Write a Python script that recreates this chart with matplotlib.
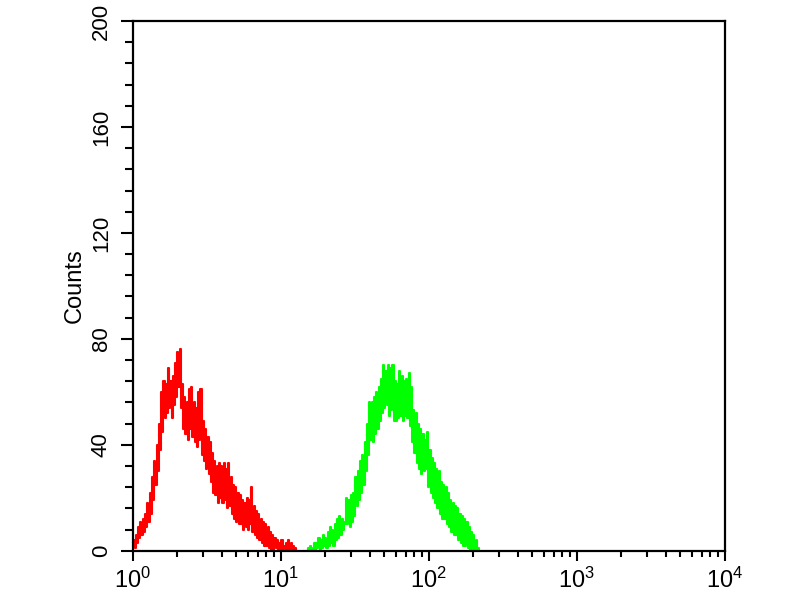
import matplotlib
matplotlib.use("Agg")
import matplotlib.pyplot as plt
import numpy as np
from matplotlib.ticker import MultipleLocator, LogLocator, FixedLocator, NullFormatter

plt.rcParams['font.family'] = ['Liberation Sans', 'DejaVu Sans']

# Histogram data: channel index (1/128 decade per channel) and counts
red_start = 0
red_counts = [
    0, 4, 1, 6, 3, 9, 5, 11, 6, 12,
    7, 14, 9, 18, 11, 22, 14, 28, 19, 34,
    25, 40, 30, 48, 38, 60, 45, 64, 50, 63,
    52, 69, 54, 64, 50, 66, 55, 71, 58, 75,
    62, 76, 54, 63, 46, 58, 44, 56, 42, 61,
    46, 62, 43, 56, 41, 54, 39, 60, 42, 61,
    36, 49, 34, 46, 31, 43, 29, 41, 26, 37,
    22, 34, 21, 32, 18, 33, 20, 32, 18, 33,
    19, 31, 16, 33, 17, 28, 14, 25, 12, 24,
    11, 22, 10, 21, 10, 19, 8, 18, 9, 20,
    8, 19, 10, 24, 7, 17, 6, 15, 5, 14,
    4, 12, 3, 11, 2, 10, 2, 9, 1, 7,
    0, 6, 0, 5, 1, 4, 0, 3, 0, 4,
    0, 2, 0, 3, 0, 4, 0, 3, 0, 2,
    0, 1, 0,
]

green_start = 150
green_counts = [
    0, 0, 1, 0, 2, 0, 1, 3, 0, 3,
    1, 5, 0, 4, 1, 6, 2, 5, 1, 7,
    2, 9, 3, 8, 2, 10, 4, 12, 5, 13,
    6, 12, 8, 11, 10, 20, 10, 19, 9, 21,
    11, 22, 13, 28, 17, 30, 19, 34, 22, 36,
    25, 41, 30, 48, 36, 56, 42, 56, 41, 58,
    44, 60, 46, 62, 49, 65, 52, 70, 54, 68,
    55, 70, 51, 69, 53, 70, 49, 64, 49, 63,
    50, 68, 51, 66, 49, 64, 51, 65, 50, 67,
    47, 62, 41, 53, 37, 52, 33, 48, 31, 46,
    29, 44, 30, 42, 31, 45, 24, 38, 22, 35,
    20, 33, 18, 31, 16, 30, 14, 26, 12, 25,
    12, 24, 10, 22, 9, 19, 7, 18, 6, 17,
    6, 16, 4, 14, 3, 13, 2, 12, 2, 11,
    1, 9, 0, 7, 0, 6, 0, 4, 0, 1,
    0,
]

channels_per_decade = 128
y_ticks = [0, 40, 80, 120, 160, 200]
x_decades = [0, 1, 2, 3, 4]


def channel_x(start, n):
    ch = np.arange(start, start + n)
    return 10.0 ** (ch / channels_per_decade)


fig = plt.figure(figsize=(8, 6), dpi=100)
ax = fig.add_axes([0.166, 0.082, 0.740, 0.883])

ax.plot(channel_x(red_start, len(red_counts)), red_counts,
        drawstyle='steps-mid', color='#ff0000', lw=1.5)
ax.plot(channel_x(green_start, len(green_counts)), green_counts,
        drawstyle='steps-mid', color='#00ff00', lw=1.5)

ax.set_xscale('log')
ax.set_xlim(1, 1e4)
ax.set_ylim(0, 200)

ax.xaxis.set_major_locator(FixedLocator([10.0 ** k for k in x_decades]))
ax.xaxis.set_minor_locator(LogLocator(base=10, subs=np.arange(2, 10)))
ax.xaxis.set_minor_formatter(NullFormatter())
ax.set_xticklabels([r'$\mathregular{10^{%d}}$' % k for k in x_decades], fontsize=17)

ax.yaxis.set_major_locator(FixedLocator(y_ticks))
ax.yaxis.set_minor_locator(MultipleLocator(8))
ax.set_yticklabels([str(v) for v in y_ticks], fontsize=16, rotation=90, va='center')

for s in ax.spines.values():
    s.set_linewidth(1.6)
    s.set_color('black')

ax.tick_params(axis='y', which='major', direction='out', length=9, width=1.5, pad=6)
ax.tick_params(axis='y', which='minor', direction='out', length=5.5, width=1.5)
ax.tick_params(axis='x', which='major', direction='out', length=7, width=1.5, pad=5)
ax.tick_params(axis='x', which='minor', direction='out', length=4.5, width=1.5)

ax.set_ylabel('Counts', fontsize=17, labelpad=4)

fig.savefig('out.png', dpi=100)
